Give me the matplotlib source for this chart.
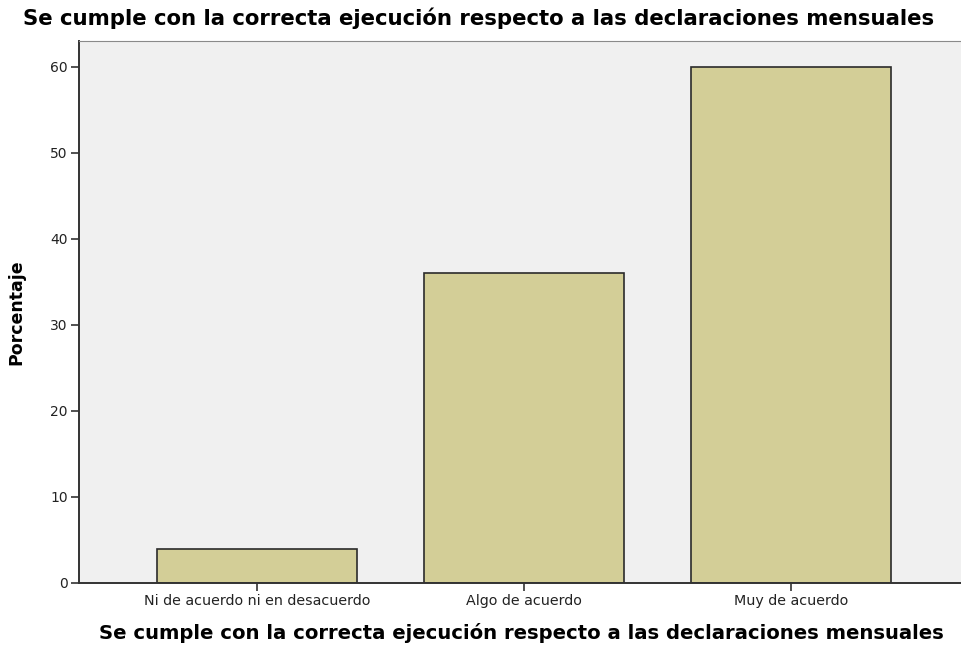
import matplotlib.pyplot as plt

categorias = ['Ni de acuerdo ni en desacuerdo', 'Algo de acuerdo', 'Muy de acuerdo']
porcentajes = [4, 36, 60]
yticks = [0, 10, 20, 30, 40, 50, 60]
titulo = 'Se cumple con la correcta ejecución respecto a las declaraciones mensuales'

fig = plt.figure(figsize=(9.62, 6.46), dpi=100)
ax = fig.add_axes([79 / 962, 63 / 646, 890 / 962, 542 / 646])
ax.set_facecolor('#F0F0F0')

x = range(len(categorias))
ax.bar(x, porcentajes, width=0.75, color='#D3CE97', edgecolor='#2b2b2b', linewidth=1.2, zorder=2)

ax.set_xlim(-0.667, 2.667)
ax.set_ylim(0, 63)
ax.set_yticks(yticks)
ax.set_xticks(list(x))
ax.set_xticklabels(categorias, fontsize=10.3, family='DejaVu Sans', color='#222222')
for lab in ax.get_yticklabels():
    lab.set_fontsize(10)
    lab.set_color('#222222')
ax.tick_params(axis='both', direction='out', length=6, width=1.2, color='#333333', pad=2)

ax.spines['right'].set_visible(False)
ax.spines['top'].set_color('#8a8a8a')
ax.spines['left'].set_color('#333333')
ax.spines['bottom'].set_color('#333333')
ax.spines['left'].set_linewidth(1.4)
ax.spines['bottom'].set_linewidth(1.4)

ax.set_ylabel('Porcentaje', fontsize=12.5, fontweight='bold', family='DejaVu Sans', labelpad=18)
fig.text(479 / 962, 1 - 18 / 646, titulo, ha='center', va='center', fontsize=15.3,
         fontweight='bold', family='DejaVu Sans')
fig.text(521 / 962, 1 - 633 / 646, titulo, ha='center', va='center', fontsize=14.1,
         fontweight='bold', family='DejaVu Sans')

fig.savefig('out.png', dpi=100)
